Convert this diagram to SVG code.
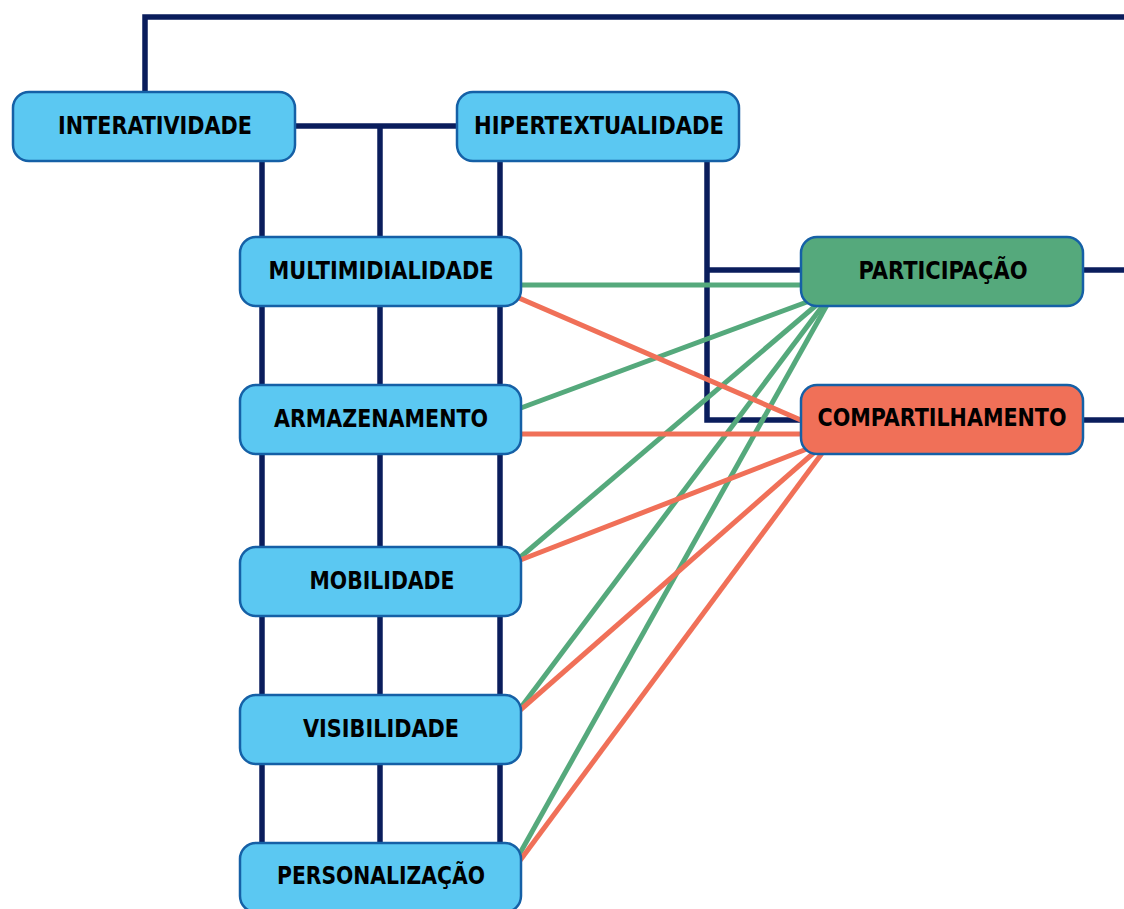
<svg xmlns="http://www.w3.org/2000/svg" width="1124" height="909" viewBox="0 0 1124 909">
<style>
.n rect{stroke:#1560A6;stroke-width:2.5}
.b rect{fill:#5BC8F2}
.g rect{fill:#55A97C}
.r rect{fill:#F07058}
text{font-family:"DejaVu Sans Condensed","DejaVu Sans",sans-serif;font-weight:bold;font-size:25px;fill:#000;text-anchor:middle}
.nv{stroke:#0A1D5C;stroke-width:5.5;fill:none}
.gl{stroke:#55A97C;stroke-width:5;fill:none}
.rl{stroke:#F07058;stroke-width:5;fill:none}
</style>
<rect width="1124" height="909" fill="#fff"/>
<g id="connectors">
<path class="nv" d="M145 100V17H1130"/>
<path class="nv" d="M280 126H470"/>
<path class="nv" d="M262 150V880"/>
<path class="nv" d="M380 126V880"/>
<path class="nv" d="M500 150V880"/>
<path class="nv" d="M707 150V420H810"/>
<path class="nv" d="M707 270H810"/>
<path class="nv" d="M1070 270H1130"/>
<path class="nv" d="M1070 420H1130"/>
<path class="gl" d="M510 285H815"/>
<path class="gl" d="M510 412L815 299"/>
<path class="gl" d="M510 566L820 302"/>
<path class="gl" d="M510 722L824 304"/>
<path class="gl" d="M510 871L827 305"/>
<path class="rl" d="M505 292L810 424"/>
<path class="rl" d="M510 434H815"/>
<path class="rl" d="M510 564L812 447"/>
<path class="rl" d="M510 719L817 450"/>
<path class="rl" d="M510 874L823 452"/>
</g>
<g id="interatividade" class="n b"><rect x="13" y="92" width="282" height="69" rx="16"/><text x="155" y="134" textLength="194" lengthAdjust="spacingAndGlyphs">INTERATIVIDADE</text></g>
<g id="hipertextualidade" class="n b"><rect x="457" y="92" width="282" height="69" rx="16"/><text x="599" y="134" textLength="250" lengthAdjust="spacingAndGlyphs">HIPERTEXTUALIDADE</text></g>
<g id="multimidialidade" class="n b"><rect x="240" y="237" width="281" height="69" rx="16"/><text x="381" y="279" textLength="225" lengthAdjust="spacingAndGlyphs">MULTIMIDIALIDADE</text></g>
<g id="armazenamento" class="n b"><rect x="240" y="385" width="281" height="69" rx="16"/><text x="381" y="427" textLength="214" lengthAdjust="spacingAndGlyphs">ARMAZENAMENTO</text></g>
<g id="mobilidade" class="n b"><rect x="240" y="547" width="281" height="69" rx="16"/><text x="382" y="589" textLength="145" lengthAdjust="spacingAndGlyphs">MOBILIDADE</text></g>
<g id="visibilidade" class="n b"><rect x="240" y="695" width="281" height="69" rx="16"/><text x="381" y="737" textLength="156" lengthAdjust="spacingAndGlyphs">VISIBILIDADE</text></g>
<g id="personalizacao" class="n b"><rect x="240" y="843" width="281" height="69" rx="16"/><text x="381" y="884" textLength="208" lengthAdjust="spacingAndGlyphs">PERSONALIZAÇÃO</text></g>
<g id="participacao" class="n g"><rect x="801" y="237" width="282" height="69" rx="16"/><text x="943" y="279" textLength="169" lengthAdjust="spacingAndGlyphs">PARTICIPAÇÃO</text></g>
<g id="compartilhamento" class="n r"><rect x="801" y="385" width="282" height="69" rx="16"/><text x="942" y="426" textLength="249" lengthAdjust="spacingAndGlyphs">COMPARTILHAMENTO</text></g>
</svg>
